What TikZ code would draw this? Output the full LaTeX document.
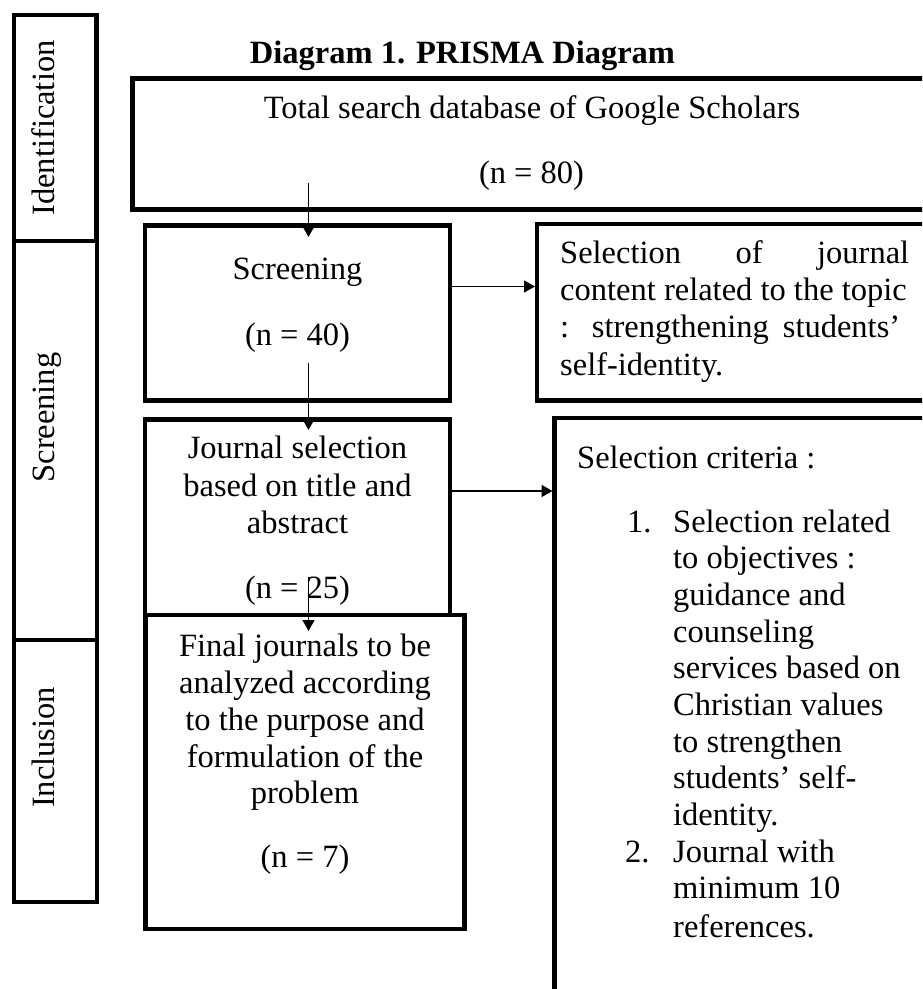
\documentclass[tikz,border=0pt]{standalone}
\usepackage{fontspec}
\setmainfont{Liberation Serif}
\usetikzlibrary{arrows.meta}
\begin{document}
\begin{tikzpicture}[x=1pt,y=-1pt,
  box/.style={draw, line width=4.4pt, rectangle, inner sep=0pt, outer sep=0pt},
  arr/.style={line width=1.6pt, -{Triangle[length=11pt,width=12pt]}},
  txt/.style={inner sep=0pt, anchor=base, font=\fontsize{32.5pt}{37pt}\selectfont},
  ltxt/.style={txt, anchor=base west},
  vtxt/.style={txt, rotate=90, anchor=base},
]
\useasboundingbox (0,0) rectangle (922,989);
\clip (0,0) rectangle (922,989);

% side labels
\node[box, minimum width=82.5pt, minimum height=226pt] (idbox) at (55.25,128) {};
\node[box, minimum width=83pt, minimum height=399pt] (scbox) at (55.5,440.5) {};
\node[box, minimum width=83pt, minimum height=262pt] (inbox) at (55.5,771) {};
\node[vtxt] (idl) at (54,128) {Identification};
\node[vtxt] (scl) at (54,417.5) {Screening};
\node[vtxt] (inl) at (54,747.5) {Inclusion};

% title
\node[txt, font=\fontsize{32.5pt}{37pt}\selectfont\bfseries] (title) at (462.5,63) {Diagram 1. PRISMA Diagram};

% main boxes
\node[box, minimum width=807.5pt, minimum height=131pt] (top) at (536.25,144) {};
\node[box, minimum width=305pt, minimum height=175pt] (scr) at (297.5,313) {};
\node[box, minimum width=305pt, minimum height=195.5pt] (jour) at (297.5,517.25) {};
\node[box, minimum width=319pt, minimum height=314pt] (fin) at (305,772) {};
\node[box, minimum width=403pt, minimum height=176.5pt] (rone) at (738.5,312.25) {};
\node[box, minimum width=385.5pt, minimum height=582pt] (rtwo) at (747.25,709) {};

% texts
\node[txt] (t80a) at (532,118) {Total search database of Google Scholars};
\node[txt] (t80b) at (531.5,183) {(n = 80)};
\node[txt] (t40a) at (297.5,279) {Screening};
\node[txt] (t40b) at (297.5,345) {(n = 40)};
\foreach \y/\t [count=\i] in {458/Journal selection, 496/based on title and, 533/abstract, 598/(n = 25)}
  \node[txt] (jt\i) at (297.5,\y) {\t};
\foreach \y/\t [count=\i] in {656/Final journals to be, 693/analyzed according, 730/to the purpose and, 767/formulation of the, 803/problem, 867/(n = 7)}
  \node[txt] (ft\i) at (305,\y) {\t};

\node[ltxt] (r1a) at (560,263) {\makebox[349pt][s]{Selection of journal}};
\node[ltxt] (r1b) at (560,300) {content related to the topic};
\node[ltxt] (r1c) at (560,337) {\makebox[340pt][s]{: strengthening students’}};
\node[ltxt] (r1d) at (560,375) {self-identity.};

\node[ltxt] (r2h) at (577,468) {Selection criteria :};
\node[ltxt] (n1) at (627,532) {1.};
\foreach \y/\t [count=\i] in {532/Selection related, 568/to objectives :, 605/guidance and, 642/counseling, 678/services based on, 715/Christian values, 752/to strengthen, 788/students’ self-, 825/identity.}
  \node[ltxt] (li\i) at (673,\y) {\t};
\node[ltxt] (n2) at (625,862) {2.};
\foreach \y/\t [count=\i] in {862/Journal with, 898/minimum 10, 937/references.}
  \node[ltxt] (lj\i) at (673,\y) {\t};

% arrows
\coordinate (a1s) at (308.5,183);
\coordinate (a1e) at (308.5,237);
\coordinate (a2s) at (308.5,363);
\coordinate (a2e) at (308.5,430);
\coordinate (a3s) at (308.5,577);
\coordinate (a3e) at (308.5,631);
\coordinate (h1) at (500,286.5);
\coordinate (h2) at (500,491);
\draw[arr] (a1s) -- (a1e);
\draw[arr] (a2s) -- (a2e);
\draw[arr] (a3s) -- (a3e);
\draw[arr] (scr.east |- h1) -- ([xshift=-2pt]rone.west |- h1);
\draw[arr] (jour.east |- h2) -- ([xshift=-2pt]rtwo.west |- h2);
\end{tikzpicture}
\end{document}
